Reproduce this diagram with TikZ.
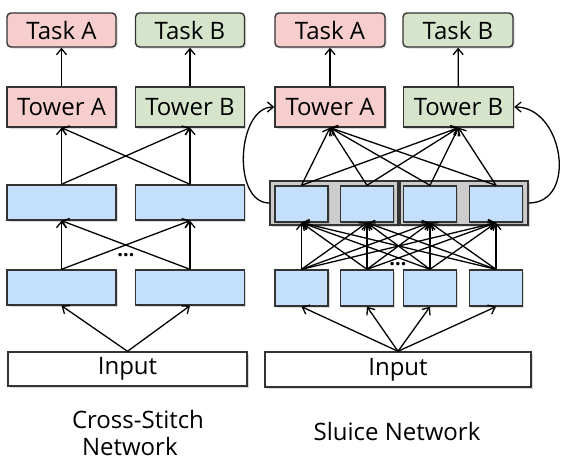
\documentclass[tikz,border=0pt]{standalone}
\usepackage{fontspec}
\setmainfont{Open Sans}
\usetikzlibrary{arrows.meta,shadows}
\definecolor{taskred}{RGB}{246,206,206}
\definecolor{taskgreen}{RGB}{214,228,204}
\definecolor{unitblue}{RGB}{196,223,249}
\definecolor{groupgray}{RGB}{204,204,204}
\begin{document}
\begin{tikzpicture}
[x=1pt, y=-1pt, >={Straight Barb[length=6pt,width=10pt]}, line width=1.3pt,
 box/.style={draw=black!80, line width=1.4pt, inner sep=0pt,
   font=\fontsize{24}{28}\selectfont,
   drop shadow={shadow xshift=1.5pt, shadow yshift=-1.5pt, opacity=.3}},
 task/.style={box, rounded corners=4pt, minimum width=109pt, minimum height=34pt},
 tower/.style={box, minimum width=109pt, minimum height=40pt},
 unit/.style={box, fill=unitblue, minimum width=109pt, minimum height=35pt},
 sunit/.style={box, fill=unitblue, minimum width=53pt, minimum height=36pt},
 group/.style={box, fill=groupgray, minimum width=128pt, minimum height=44pt},
 input/.style={box, fill=white, minimum height=34pt},
 dots/.style={font=\fontsize{20}{22}\bfseries\selectfont},
 caption/.style={font=\fontsize{24}{27}\selectfont, inner sep=0pt}]
\useasboundingbox (0,0) rectangle (568,463);

% cross-stitch network
\node (TaskA1) at (61.5,30) [task, fill=taskred] {Task A};
\node (TaskB1) at (190,30) [task, fill=taskgreen] {Task B};
\node (TowerA1) at (61.5,107) [tower, fill=taskred] {Tower A};
\node (TowerB1) at (190,107) [tower, fill=taskgreen] {Tower B};
\node (U11) at (61.5,202.5) [unit] {};
\node (U12) at (190,202.5) [unit] {};
\node (L11) at (61.5,287.5) [unit] {};
\node (L12) at (190,287.5) [unit] {};
\node (In1) at (127.5,369) [input, minimum width=239pt] {Input};
\node (dots1) at (126,255) [dots] {\dots};
\draw[->] (TowerA1) -- (TaskA1);
\draw[->] (TowerB1) -- (TaskB1);
\draw[->] (U11.north) -- (TowerA1.south);
\draw[->] (U11.north) -- (TowerB1.south);
\draw[->] (U12.north) -- (TowerA1.south);
\draw[->] (U12.north) -- (TowerB1.south);
\draw[->] (L11.north) -- (U11.south);
\draw[->] (L11.north) -- (U12.south);
\draw[->] (L12.north) -- (U11.south);
\draw[->] (L12.north) -- (U12.south);
\draw[->] (In1.north) -- (L11.south);
\draw[->] (In1.north) -- (L12.south);
\node (cap1) at (138,433) [caption, align=left] {Cross-Stitch\\\hspace*{10pt}Network};

% sluice network
\node (TaskA2) at (330,30) [task, fill=taskred, minimum width=110pt] {Task A};
\node (TaskB2) at (458,30) [task, fill=taskgreen, minimum width=110pt] {Task B};
\node (TowerA2) at (330,107) [tower, fill=taskred, minimum width=110pt] {Tower A};
\node (TowerB2) at (458.5,107) [tower, fill=taskgreen, minimum width=110pt] {Tower B};
\node (G1) at (334,203) [group] {};
\node (G2) at (464,203) [group] {};
\node (U21) at (301.5,204) [sunit] {};
\node (U22) at (367,204) [sunit] {};
\node (U23) at (430,204) [sunit] {};
\node (U24) at (496,204) [sunit] {};
\node (L21) at (301.5,288) [sunit] {};
\node (L22) at (367,288) [sunit] {};
\node (L23) at (430,288) [sunit] {};
\node (L24) at (496,288) [sunit] {};
\node (In2) at (398,369.5) [input, minimum width=266pt, minimum height=35pt] {Input};
\node (dots2) at (398,264) [dots] {\dots};
\draw[->] (TowerA2) -- (TaskA2);
\draw[->] (TowerB2) -- (TaskB2);
\foreach \i in {1,...,4} {
  \draw[->] (In2.north) -- (L2\i.south);
  \foreach \j in {1,...,4}
    \draw[->] (L2\i.north) -- (U2\j.south);
  \draw[->] (U2\i.north) -- (TowerA2.south);
  \draw[->] (U2\i.north) -- (TowerB2.south);
}
\draw[->] (G1.west) to[out=180, in=180, looseness=1] (TowerA2.west);
\draw[->] (G2.east) to[out=0, in=0, looseness=1.3] (TowerB2.east);
\node (cap2) at (397,431) [caption] {Sluice Network};
\end{tikzpicture}
\end{document}
